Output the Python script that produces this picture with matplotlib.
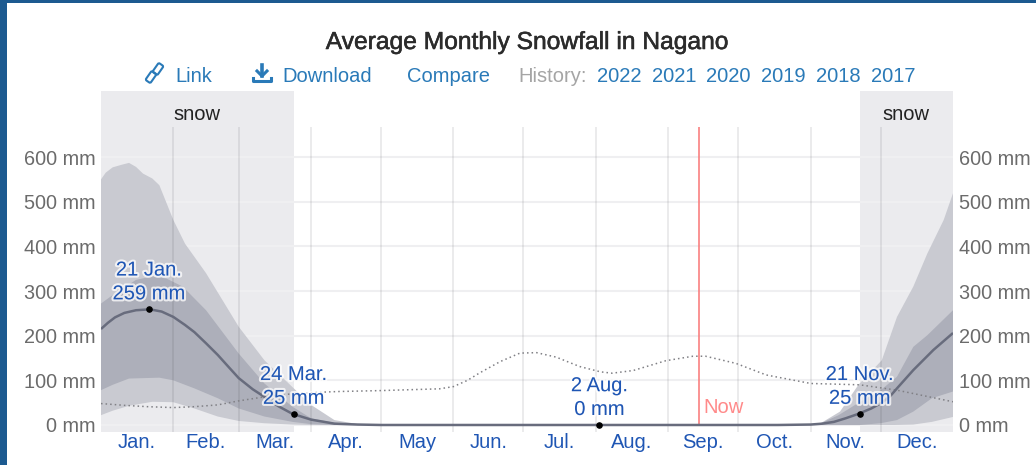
import numpy as np
import matplotlib
matplotlib.use('Agg')
import matplotlib.pyplot as plt
import matplotlib.patheffects as pe
from matplotlib.patches import Rectangle, FancyBboxPatch

plt.rcParams['font.family'] = ['Liberation Sans', 'DejaVu Sans']

months = ['Jan.', 'Feb.', 'Mar.', 'Apr.', 'May', 'Jun.', 'Jul.', 'Aug.', 'Sep.', 'Oct.', 'Nov.', 'Dec.']
month_days = [31, 28, 31, 30, 31, 30, 31, 31, 30, 31, 30, 31]
yticks = [0, 100, 200, 300, 400, 500, 600]
years = ['2022', '2021', '2020', '2019', '2018', '2017']

# day of year, mm
med_d = [0, 3, 6, 10, 15, 21, 26, 31, 36, 40, 45, 50, 55, 59, 65, 70, 76, 82, 90, 100, 110, 120,
         290, 304, 309, 314, 319, 324.5, 330, 334.5, 338, 341, 348, 356.6, 365]
med_v = [215, 229, 241, 251, 257, 259, 254, 242, 224, 208, 183, 157, 128, 105, 80, 63, 42, 25, 12, 3, 1, 0,
         0, 1, 3, 7, 15, 25, 37, 50, 64, 82, 123, 168, 206]

p90_d = [0, 2, 5, 9, 12, 15, 18, 22, 25, 28, 31, 36, 45, 52, 59, 70, 82, 90, 100, 110, 120,
         300, 308, 316.6, 324.5, 334.5, 341, 348, 354, 361, 365]
p90_v = [550, 565, 577, 583, 587, 578, 563, 552, 537, 498, 459, 406, 340, 280, 220, 145, 85, 45, 11, 2, 0,
         0, 3, 30, 90, 145, 242, 310, 384, 459, 519]

p75_d = [0, 5, 15, 22, 28, 35, 45, 59, 70, 82, 90, 100, 110, 120,
         300, 308, 316, 324, 334, 341, 348, 354, 365]
p75_v = [272, 291, 325, 333, 328, 310, 257, 160, 93, 41, 15, 5, 1, 0,
         0, 3, 22, 48, 78, 108, 175, 201, 257]

p25_d = [0, 5, 12, 25, 31, 40, 50, 59, 70, 82, 90, 100,
         325, 334, 341, 348, 356, 365]
p25_v = [78, 90, 104, 106, 100, 82, 60, 37, 19, 7, 2, 0,
         0, 4, 11, 30, 60, 75]

p10_d = [0, 5, 12, 22, 31, 40, 50, 59, 70, 82, 90,
         340, 348, 356, 365]
p10_v = [22, 32, 43, 52, 51, 37, 19, 9, 4, 1, 0,
         0, 1, 7, 18]

dot_d = [0, 10, 20, 31, 40, 50, 59, 70, 82, 92, 102, 119.5, 145, 151, 157, 162, 171, 179.5, 186.6, 195,
         205, 214, 219, 228, 242, 253.6, 259, 272, 285, 304, 325, 341, 365]
dot_v = [48, 44, 41, 39, 41, 45, 54, 63, 70, 73, 75, 77, 81, 86, 100, 116, 142, 161, 162, 152,
         131, 119, 116, 122, 144, 154, 154, 138, 112, 93, 90, 78, 52]

# callouts
call_d = [20.5, 82.5, 213.5, 325]
call_v = [259, 25, 0, 25]
call_txt = ['21 Jan.\n259 mm', '24 Mar.\n25 mm', '2 Aug.\n0 mm', '21 Nov.\n25 mm']
snow_d = [(0, 82.5), (325.3, 365)]
now_d = 256

W, H = 1036, 465
fig = plt.figure(figsize=(W / 100, H / 100), dpi=100, facecolor='white')
ax = fig.add_axes([101 / W, (H - 432) / H, 852 / W, (432 - 91) / H])
ax.set_xlim(0, 365)
ax.set_ylim(-15.7, 748)
for s in ax.spines.values():
    s.set_visible(False)
ax.set_facecolor('none')

for a, b in snow_d:
    ax.axvspan(a, b, color='#ebebee', lw=0, zorder=0)
ax.hlines(yticks, 0, 365, color='#efeff1', lw=1.5, zorder=1)

def band(hd, hv, ld, lv, col):
    left = [i for i, d in enumerate(hd) if d <= 150]
    right = [i for i, d in enumerate(hd) if d > 150]
    lleft = [i for i, d in enumerate(ld) if d <= 150]
    lright = [i for i, d in enumerate(ld) if d > 150]
    for hi, li in ((left, lleft), (right, lright)):
        xs = [hd[i] for i in hi] + [ld[i] for i in li][::-1]
        ys = [hv[i] for i in hi] + [lv[i] for i in li][::-1]
        ax.fill(xs, ys, color=col, lw=0, zorder=2)

band(p90_d, p90_v, p10_d, p10_v, '#c9cad1')
band(p75_d, p75_v, p25_d, p25_v, '#adafba')

edges = np.cumsum([0] + month_days)
ax.vlines(edges[1:-1], -15.7, 667, color='#30303a', alpha=0.1, lw=1.3, zorder=3)
ax.vlines(now_d, 0, 667, color='#f98080', lw=1.2, zorder=4)
ax.plot(dot_d, dot_v, color='#808085', lw=1.1, ls=(0, (1, 2)), zorder=5)
ax.plot(med_d, med_v, color='#686c7d', lw=1.8, zorder=6, solid_capstyle='butt')
ax.scatter(call_d, call_v, s=14, color='black', zorder=7, clip_on=False)

mid = (edges[:-1] + edges[1:]) / 2
ax.set_xticks(mid)
ax.set_xticklabels(months)
ax.tick_params(axis='x', length=0, pad=1, labelsize=14.5, labelcolor='#1f56b4')
ax.set_yticks(yticks)
ax.set_yticklabels(['%d mm' % v for v in yticks])
ax.tick_params(axis='y', length=0, pad=4, labelsize=14.3, labelcolor='#6b6b6b', labelleft=True, labelright=True)

halo = [pe.withStroke(linewidth=3, foreground=(1, 1, 1, 0.75))]
off = [(0, 6), (0, 6), (0, 6), (0, 6)]
for d, v, t, o in zip(call_d, call_v, call_txt, off):
    ax.annotate(t, (d, v), xytext=o, textcoords='offset pixels', ha='center', va='bottom',
                fontsize=14.5, color='#1f56b4', linespacing=1.32, zorder=8, path_effects=halo)
ax.text(now_d + 2.2, 40, 'Now', color='#ff8a8a', fontsize=14.5, va='center', zorder=8)
ax.text(41, 696, 'snow', color='#222222', fontsize=14.5, ha='center', va='center', zorder=8)
ax.text(345, 696, 'snow', color='#222222', fontsize=14.5, ha='center', va='center', zorder=8)

# page chrome in pixel coordinates
top = fig.add_axes([0, 0, 1, 1], zorder=-1)
top.set_xlim(0, W)
top.set_ylim(H, 0)
top.axis('off')
top.add_patch(Rectangle((0, 0), W, 3, color='#1c5a90', lw=0))
top.add_patch(Rectangle((0, 0), 6.5, H, color='#1c5a90', lw=0))

over = fig.add_axes([0, 0, 1, 1], zorder=5)
over.set_xlim(0, W)
over.set_ylim(H, 0)
over.axis('off')
over.patch.set_alpha(0)
over.text(527, 42, 'Average Monthly Snowfall in Nagano', ha='center', va='center', fontsize=17.7,
          color='#2b2b2b', path_effects=[pe.withStroke(linewidth=0.4, foreground='#2b2b2b')])
link = '#2a7ab8'
row_y = 76.5
over.text(175, row_y, 'Link', color=link, fontsize=14.5, va='center')
over.text(282, row_y, 'Download', color=link, fontsize=14.5, va='center')
over.text(407, row_y, 'Compare', color=link, fontsize=14.5, va='center')
over.text(518, row_y, 'History:', color='#a5a5a5', fontsize=14.5, va='center')
for x, y in zip([597, 652, 706, 761, 816, 871], years):
    over.text(x, row_y, y, color=link, fontsize=14.5, va='center')
# link icon
for cx, cy in [(151, 77), (158, 69)]:
    over.add_patch(FancyBboxPatch((cx - 1.5, cy - 4), 3, 8, boxstyle='round,pad=1.5', fc='none', ec=link, lw=1.5,
                                  transform=matplotlib.transforms.Affine2D().rotate_deg_around(cx, cy, 35) + over.transData))
# download icon
over.plot([262, 262], [65, 76], color=link, lw=2.6)
over.plot([257, 262, 267], [71, 76, 71], color=link, lw=2.2)
over.plot([253, 253, 271, 271], [78, 81.5, 81.5, 78], color=link, lw=2.2)

fig.savefig('out.png', dpi=100)
